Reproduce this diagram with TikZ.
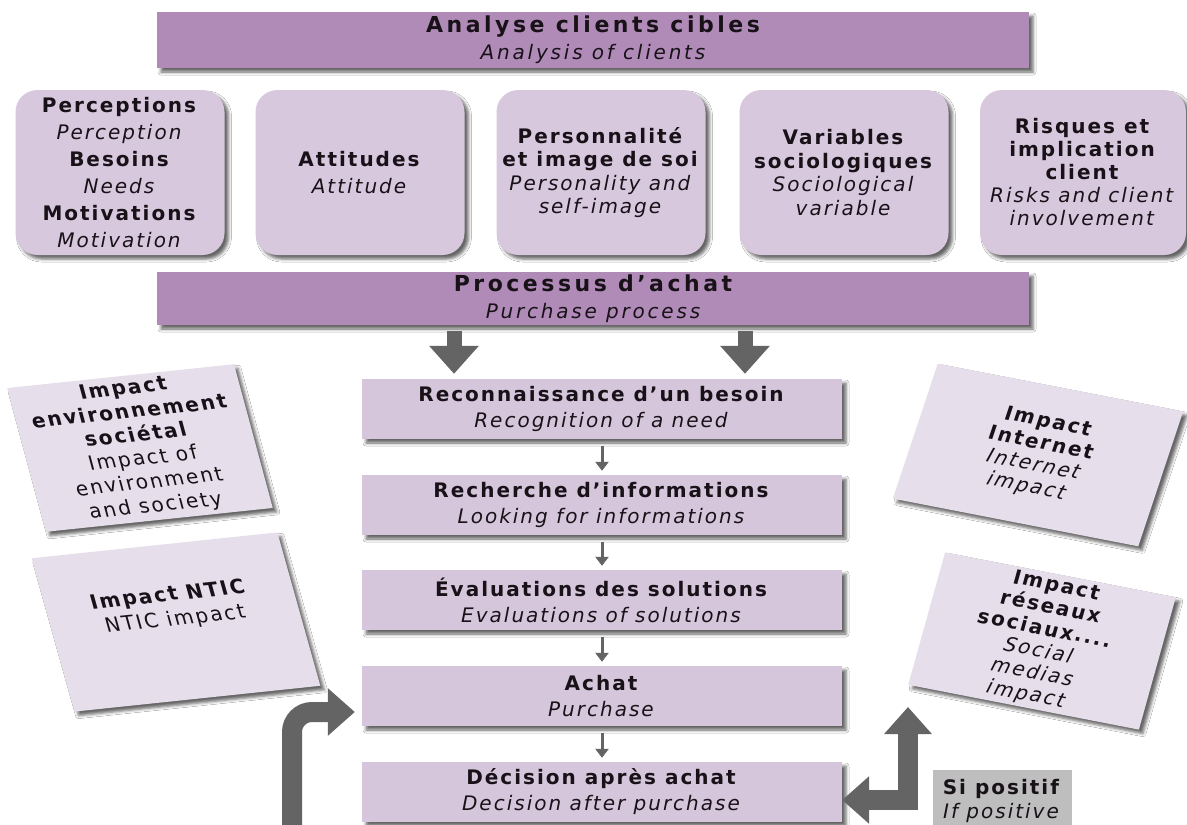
\documentclass[tikz,border=0pt]{standalone}
\usepackage{fontspec}
\setmainfont{DejaVu Sans}[LetterSpace=10.0]
\usetikzlibrary{arrows.meta,shadows.blur}
\definecolor{barfill}{RGB}{176,139,184}
\definecolor{cardfill}{RGB}{216,200,222}
\definecolor{stepfill}{RGB}{214,198,220}
\definecolor{tiltfill}{RGB}{231,222,235}
\definecolor{arrowgray}{RGB}{100,100,100}
\definecolor{notegray}{RGB}{190,190,190}
\definecolor{inkcol}{RGB}{24,18,24}
\tikzset{fattip/.tip={Triangle[width=46pt,length=27pt]}}
\newcommand{\bartitle}[1]{{\fontsize{22}{27}\selectfont\bfseries\addfontfeature{LetterSpace=16.0}#1}}
\newcommand{\barsub}[1]{{\fontsize{20}{27}\selectfont\itshape\addfontfeature{LetterSpace=14.0}#1}}
\begin{document}
\begin{tikzpicture}[x=1pt,y=-1pt,
  soft/.style={blur shadow={shadow xshift=4pt,shadow yshift=-4pt,shadow blur radius=3pt,shadow opacity=60}},
  bar/.style={soft,fill=barfill,minimum width=872pt,minimum height=56pt,inner sep=0pt,align=center,text=inkcol,font=\fontsize{20}{27}\selectfont},
  card/.style={soft,fill=cardfill,rounded corners=22pt,minimum width=209pt,minimum height=165pt,inner sep=0pt,align=center,text=inkcol},
  stepbox/.style={soft,fill=stepfill,minimum width=480pt,minimum height=60pt,inner sep=0pt,align=center,text=inkcol,font=\fontsize{20}{26}\selectfont},
  tilt/.style={soft,fill=tiltfill,inner sep=0pt,align=center,text=inkcol},
  thin/.style={draw=arrowgray,line width=3pt,-{Triangle[width=13pt,length=9pt]}},
  block/.style={draw=arrowgray,line width=15pt,-{Triangle[width=48pt,length=28pt]}},
  fat/.style={draw=arrowgray,line width=20pt},
]
\useasboundingbox (0,0) rectangle (1187,825);
\fill[white] (0,0) rectangle (1187,825);
\clip (0,0) rectangle (1187,825);

% headline bars
\node[bar] (analyse) at (593,40) {\bartitle{Analyse clients cibles}\\\barsub{Analysis of clients}};
\node[bar,minimum height=53pt] (processus) at (593,298.5) {\bartitle{Processus d'achat}\\\barsub{Purchase process}};

% client analysis cards
\node[card,font=\fontsize{20}{27}\selectfont] (perc) at (120,172.5)
  {\textbf{Perceptions}\\\textit{Perception}\\\textbf{Besoins}\\\textit{Needs}\\\textbf{Motivations}\\\textit{Motivation}};
\node[card,font=\fontsize{20}{27}\selectfont] (att) at (360,172.5)
  {\textbf{Attitudes}\\\textit{Attitude}};
\node[card,font=\fontsize{20}{23.5}\selectfont] (perso) at (601,172.5)
  {\textbf{Personnalité}\\\textbf{et image de soi}\\\textit{Personality and}\\\textit{self-image}};
\node[card,font=\fontsize{20}{23.5}\selectfont] (socio) at (844,172.5)
  {\textbf{Variables}\\\textbf{sociologiques}\\\textit{Sociological}\\\textit{variable}};
\node[card,font=\fontsize{20}{23}\selectfont,minimum width=206pt] (risk) at (1083,172.5)
  {\textbf{Risques et}\\\textbf{implication}\\\textbf{client}\\\textit{Risks and client}\\\textit{involvement}};

% purchase steps
\node[stepbox] (rec)   at (602,409) {\textbf{Reconnaissance d'un besoin}\\\textit{Recognition of a need}};
\node[stepbox] (rech)  at (602,505) {\textbf{Recherche d'informations}\\\textit{Looking for informations}};
\node[stepbox] (eval)  at (602,600) {\textbf{Évaluations des solutions}\\\textit{Evaluations of solutions}};
\node[stepbox] (achat) at (602,696) {\textbf{Achat}\\\textit{Purchase}};
\node[stepbox] (dec)   at (602,792) {\textbf{Décision après achat}\\\textit{Decision after purchase}};

% tilted impact notes
\node[tilt,minimum width=228pt,minimum height=147pt,rotate=6,xslant=-0.16,font=\fontsize{20}{24}\selectfont] (env) at (140,448)
  {\textbf{Impact}\\\textbf{environnement}\\\textbf{sociétal}\\Impact of\\environment\\and society};
\node[tilt,minimum width=247pt,minimum height=157pt,rotate=6,xslant=-0.17,font=\fontsize{20}{25}\selectfont] (ntic) at (176,622)
  {\textbf{Impact NTIC}\\NTIC impact\\[8pt]};
\node[tilt,minimum width=250pt,minimum height=141pt,rotate=-11,xslant=0.13,font=\fontsize{20}{22.5}\selectfont] (web) at (1038,455)
  {\textbf{Impact}\\\textbf{Internet}\\\textit{Internet}\\\textit{impact}};
\node[tilt,minimum width=235pt,minimum height=137pt,rotate=-11,xslant=0.08,font=\fontsize{20}{22.5}\selectfont] (social) at (1042,641)
  {\textbf{Impact}\\\textbf{réseaux}\\\textbf{sociaux....}\\\textit{Social}\\\textit{medias}\\\textit{impact}};

% condition label
\node[fill=notegray,minimum width=139pt,minimum height=62pt,inner sep=0pt,align=center,text=inkcol,font=\fontsize{20}{24}\selectfont] (note) at (1002,801)
  {\textbf{Si positif}\\\textit{If positive}};

% block arrows from the process bar
\coordinate (colA) at (454,0);
\coordinate (colB) at (745,0);
\draw[block,shorten <=6pt,shorten >=5pt] (processus.south -| colA) -- (rec.north -| colA);
\draw[block,shorten <=6pt,shorten >=5pt] (processus.south -| colB) -- (rec.north -| colB);

% thin arrows between steps
\draw[thin,shorten <=7pt,shorten >=4pt] (rec.south)  -- (rech.north);
\draw[thin,shorten <=7pt,shorten >=4pt] (rech.south) -- (eval.north);
\draw[thin,shorten <=7pt,shorten >=4pt] (eval.south) -- (achat.north);
\draw[thin,shorten <=7pt,shorten >=4pt] (achat.south) -- (dec.north);

% feedback loop into the purchase step
\coordinate (loopfoot) at (292,840);
\draw[fat,rounded corners=20pt,-{fattip}] (loopfoot) |- ([yshift=-16pt,xshift=-7pt]achat.west);

% positive outcome arrows
\coordinate (uptip) at (908,707);
\draw[fat,line join=miter,{fattip}-{fattip}] (uptip) |- ([yshift=-8pt]dec.east);
\end{tikzpicture}
\end{document}
